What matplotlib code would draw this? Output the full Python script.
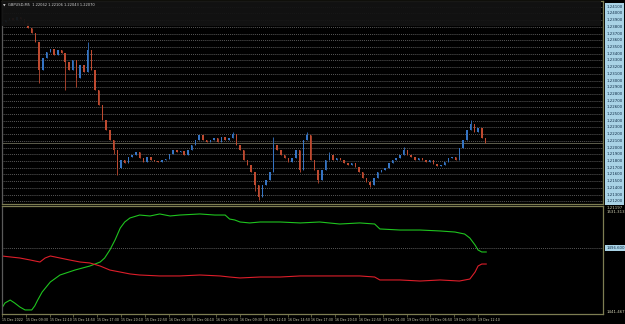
import matplotlib
matplotlib.use('Agg')
import matplotlib.pyplot as plt
import matplotlib.transforms as mtransforms
from matplotlib.patches import Rectangle
import numpy as np

# ---------------- data ----------------
symbol_title = "GBPUSD,M5  1.22062 1.22106 1.22043 1.22070"

first_open = 1.2385
close = [
    1.2387, 1.2390, 1.2393, 1.2390, 1.2395, 1.2392, 1.2385, 1.2378, 1.2371, 1.2357,
    1.2316, 1.2334, 1.2343, 1.2347, 1.2338, 1.2346, 1.2341, 1.2328, 1.2316, 1.2331,
    1.2304, 1.2323, 1.2313, 1.2346, 1.2316, 1.2286, 1.2264, 1.2241, 1.2226, 1.2211,
    1.2197, 1.2170, 1.2182, 1.2177, 1.2186, 1.2189, 1.2194, 1.2185, 1.2179, 1.2186,
    1.2182, 1.2180, 1.2179, 1.2182, 1.2183, 1.2191, 1.2197, 1.2194, 1.2195, 1.2189,
    1.2197, 1.2204, 1.2211, 1.2219, 1.2211, 1.2208, 1.2211, 1.2214, 1.2208, 1.2216,
    1.2211, 1.2214, 1.2220, 1.2204, 1.2197, 1.2182, 1.2174, 1.2164, 1.2144, 1.2126,
    1.2144, 1.2152, 1.2164, 1.2204, 1.2197, 1.2189, 1.2185, 1.2179, 1.2185, 1.2197,
    1.2167, 1.2211, 1.2219, 1.2182, 1.2167, 1.2152, 1.2167, 1.2182, 1.2189, 1.2182,
    1.2185, 1.2182, 1.2177, 1.2174, 1.2177, 1.2171, 1.2164, 1.2155, 1.2149, 1.2144,
    1.2155, 1.2164, 1.2167, 1.2170, 1.2177, 1.2182, 1.2185, 1.2189, 1.2197, 1.2189,
    1.2186, 1.2182, 1.2185, 1.2182, 1.2179, 1.2182, 1.2176, 1.2173, 1.2174, 1.2179,
    1.2185, 1.2186, 1.2182, 1.2199, 1.2211, 1.2226, 1.2235, 1.2223, 1.2229, 1.2214,
    1.2207]
spike_high = {23: 1.2357, 62: 1.2223, 73: 1.2216, 82: 1.2223, 88: 1.2194,
              108: 1.2201, 126: 1.2241}
spike_low = {10: 1.2296, 17: 1.2286, 20: 1.2290, 30: 1.2190, 31: 1.2159,
             68: 1.2136, 69: 1.2122, 80: 1.2164, 85: 1.2147, 99: 1.2141}
bars_per_candle = 5

grid_prices = [1.2410, 1.2400, 1.2390, 1.2380, 1.2370, 1.2360, 1.2350, 1.2340,
               1.2330, 1.2320, 1.2310, 1.2300, 1.2290, 1.2280, 1.2270, 1.2260,
               1.2250, 1.2240, 1.2230, 1.2220, 1.2210, 1.2200, 1.2190, 1.2180,
               1.2170, 1.2160, 1.2150, 1.2140, 1.2130, 1.2120]

time_labels = ["15 Dec 2022", "15 Dec 09:30", "15 Dec 12:10", "15 Dec 14:50",
               "15 Dec 17:30", "15 Dec 20:10", "15 Dec 22:50", "16 Dec 01:30",
               "16 Dec 04:10", "16 Dec 06:50", "16 Dec 09:30", "16 Dec 12:10",
               "16 Dec 14:50", "16 Dec 17:30", "16 Dec 20:10", "16 Dec 22:50",
               "19 Dec 01:30", "19 Dec 04:10", "19 Dec 06:50", "19 Dec 09:30",
               "19 Dec 12:10"]
bars_per_label = 32

green_x = [0, 4, 11, 17, 24, 31, 40, 44, 48, 54, 65, 78, 98, 118, 132, 138, 145,
           152, 159, 165, 172, 185, 199, 212, 226, 239, 266, 286, 300, 306, 313,
           320, 333, 347, 374, 401, 427, 454, 481, 501, 508, 535, 562, 589, 609,
           622, 629, 636, 640, 645, 651]
green_v = [1445.8, 1450.0, 1452.5, 1450.0, 1446.6, 1444.1, 1444.1, 1447.5, 1452.5,
           1459.3, 1467.8, 1473.7, 1477.9, 1481.3, 1484.7, 1488.1, 1494.9, 1503.4,
           1513.5, 1518.6, 1522.0, 1524.5, 1523.7, 1525.4, 1523.7, 1524.5, 1525.4,
           1524.5, 1524.5, 1521.1, 1520.3, 1518.6, 1517.8, 1518.6, 1518.6, 1517.8,
           1518.6, 1516.9, 1517.8, 1516.9, 1512.7, 1511.8, 1511.8, 1511.0, 1510.1,
           1508.4, 1505.0, 1499.1, 1494.9, 1493.2, 1493.2]
red_x = [0, 11, 24, 38, 51, 58, 65, 78, 91, 105, 118, 132, 145, 159, 172, 185, 212,
         239, 266, 293, 306, 320, 347, 374, 401, 427, 454, 481, 501, 508, 535, 562,
         589, 615, 629, 636, 640, 645, 651]
red_v = [1489.8, 1489.0, 1488.1, 1486.4, 1484.7, 1488.1, 1489.8, 1488.1, 1486.4,
         1484.7, 1483.9, 1481.3, 1477.9, 1476.2, 1474.6, 1473.7, 1472.9, 1472.9,
         1473.7, 1472.9, 1472.0, 1471.2, 1472.0, 1472.0, 1472.9, 1472.9, 1472.9,
         1472.9, 1472.0, 1469.5, 1469.5, 1468.6, 1469.5, 1468.6, 1470.3, 1476.2,
         1481.3, 1483.0, 1483.0]
ind_level = 1496.6
ind_top_labels = ["1.21197", "1531.313"]
ind_bottom_label = "1441.467"

# ---------------- style ----------------
W, H = 625, 324
BG = 'black'
OLIVE = '#7d7d52'
UP = '#3574c4'
DOWN = '#bf4a30'
GRIDC = '#8c8c8c'
LBL_FC = '#a9d3e6'
LBL_TC = '#0d2a44'
TXT = '#d2d2b4'

fig = plt.figure(figsize=(W / 100, H / 100), dpi=100, facecolor=BG)
ax = fig.add_axes([2 / W, 120 / H, 601 / W, 203 / H])
ax2 = fig.add_axes([2 / W, 10 / H, 601 / W, 108 / H])

xmax = 808
for a in (ax, ax2):
    a.set_facecolor(BG)
    a.set_xlim(0, xmax)
    a.set_yticks([])
    for s in a.spines.values():
        s.set_color(OLIVE)
        s.set_linewidth(0.9)
    a.spines['left'].set_color('#5a5a5a')

ax.set_ylim(1.21160, 1.24185)
ax2.set_ylim(1440.67, 1532.15)

# grid lines + right labels
trans = mtransforms.blended_transform_factory(ax.transAxes, ax.transData)
for p in grid_prices:
    ax.axhline(p, color=GRIDC, lw=0.5, ls=(0, (1.2, 1.6)), zorder=1)
    ax.text(1.0055, p, f"{p:.5f}", transform=trans, fontsize=2.8, color=LBL_TC,
            ha='left', va='center', clip_on=False,
            bbox=dict(boxstyle='square,pad=0.35', fc=LBL_FC, ec='none'))

# candles
n = len(close)
xs = np.arange(n) * bars_per_candle
opens = [first_open] + close[:-1]
for i in range(n):
    o, c = opens[i], close[i]
    hi = max(spike_high.get(i, max(o, c)), o, c)
    lo = min(spike_low.get(i, min(o, c)), o, c)
    col = UP if c >= o else DOWN
    ax.vlines(xs[i], lo, hi, color=col, lw=0.6, zorder=3)
    h = c - o if abs(c - o) > 0.00003 else 0.00003
    ax.bar(xs[i], h, bottom=o, width=2.0, color=col, lw=0, zorder=3)

# bid line
ax.axhline(close[-1], color='#5c5c4c', lw=0.7, zorder=2)

# top overlay band
top = ax.get_ylim()[1]
band_lo = 1.23813
ax.add_patch(Rectangle((0, band_lo), 805, top - band_lo, fc='#131313', ec='none',
                       zorder=5, alpha=0.95))
fig.text(3 / W, 1 - 5.5 / H, '\u25bc', fontsize=2.4, color='#d0d0d0', va='center')
fig.text(8 / W, 1 - 5.5 / H, symbol_title, fontsize=2.6, color='#d0d0d0', va='center')

ax.tick_params(bottom=False, labelbottom=False, left=False, right=False)

# indicator panel
ax2.plot(green_x, green_v, color='#1fc41f', lw=0.8)
ax2.plot(red_x, red_v, color='#dd1e2a', lw=0.8)
ax2.axhline(ind_level, color=GRIDC, lw=0.5, ls=(0, (1.2, 1.6)))
trans2 = mtransforms.blended_transform_factory(ax2.transAxes, ax2.transData)
ax2.text(1.0055, ind_level, f"{ind_level:.3f}", transform=trans2, fontsize=2.8,
         color=LBL_TC, ha='left', va='center', clip_on=False,
         bbox=dict(boxstyle='square,pad=0.35', fc=LBL_FC, ec='none'))
ax2.text(1.006, 0.985, ind_top_labels[0], transform=ax2.transAxes, fontsize=2.8,
         color=TXT, ha='left', va='center', clip_on=False)
ax2.text(1.006, 0.94, ind_top_labels[1], transform=ax2.transAxes, fontsize=2.8,
         color=TXT, ha='left', va='center', clip_on=False)
ax2.text(1.006, 0.02, ind_bottom_label, transform=ax2.transAxes, fontsize=2.8,
         color=TXT, ha='left', va='center', clip_on=False)

ticks = [k * bars_per_label for k in range(len(time_labels))]
ax2.set_xticks(ticks)
ax2.set_xticklabels(time_labels, ha='left', fontsize=2.3, color=TXT)
ax2.tick_params(axis='x', length=2, width=0.5, color=OLIVE, pad=1.2)
ax2.tick_params(left=False, right=False)

fig.savefig('out.png', dpi=100, facecolor=BG)
